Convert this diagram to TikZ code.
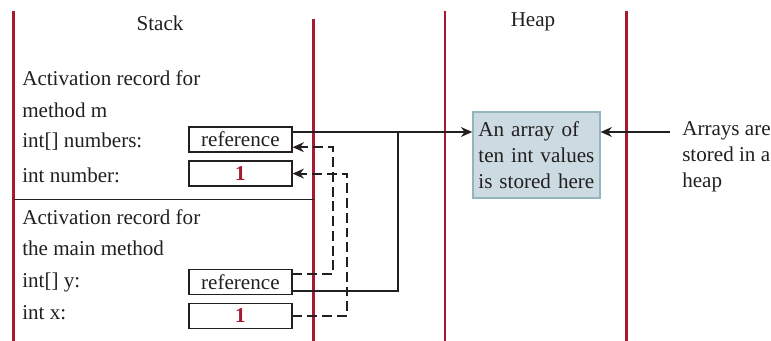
\documentclass[tikz,border=0pt]{standalone}
\usepackage{fontspec}
\setmainfont{Liberation Serif}
\usetikzlibrary{calc, positioning, arrows.meta}
\definecolor{wallred}{HTML}{A6192E}
\definecolor{heapfill}{HTML}{CBDBE1}
\definecolor{heapedge}{HTML}{94B4BE}
\definecolor{inkgray}{HTML}{231F20}
\tikzset{
  wall/.style={wallred, line width=1.6pt},
  rowtext/.style={anchor=west, inner sep=0pt, text=inkgray},
  valbox/.style={draw=inkgray, line width=1pt, minimum width=2.575cm,
    minimum height=0.625cm, inner sep=0pt, text=inkgray},
  heapbox/.style={fill=heapfill, draw=heapedge, line width=1.4pt, text width=2.9cm,
    minimum height=2.15cm, inner sep=0.13cm, align=left, text=inkgray},
  reflink/.style={draw=inkgray, line width=1.5pt},
  backlink/.style={reflink, dash pattern=on 7pt off 3.5pt},
  pointer/.style={-{Stealth[length=8pt,width=7pt]}}
}
\newcommand{\oneval}{\textcolor{wallred}{\textbf{1}}}

\begin{document}
\begin{tikzpicture}[font=\fontsize{15}{18.5}\selectfont]
\useasboundingbox (0,0) rectangle (19.275,-8.525);

% Column walls
\draw[wall] (0.34,-0.275) -- (0.34,-8.525);
\draw[wall] (7.84,-0.475) -- (7.84,-8.525);
\draw[wall] (11.125,-0.275) -- (11.125,-8.525);
\draw[wall] (15.66,-0.275) -- (15.66,-8.525);

% Column titles
\node[text=inkgray] (stack) at (4.0,-0.575) {Stack};
\node[text=inkgray] (heap) at (13.325,-0.55) {Heap};

% Activation record for m
\node[rowtext] (mrec1) at (0.55,-1.95) {Activation record for};
\node[rowtext] (mrec2) at (0.55,-2.75) {method m};
\node[rowtext] (numlbl) at (0.55,-3.55) {int[] numbers:};
\node[rowtext] (nlbl) at (0.55,-4.375) {int number:};
\draw[inkgray, line width=0.7pt] (0.34,-4.975) -- (7.84,-4.975);

% Activation record for main
\node[rowtext] (mainrec1) at (0.55,-5.425) {Activation record for};
\node[rowtext] (mainrec2) at (0.55,-6.2) {the main method};
\node[rowtext] (ylbl) at (0.55,-7.05) {int[] y:};
\node[rowtext] (xlbl) at (0.55,-7.825) {int x:};

% Value boxes
\node[valbox] (numref) at (6.01,-3.49) {reference};
\node[valbox] (numval) at (6.01,-4.34) {\oneval};
\node[valbox] (yref) at (6.01,-7.05) {reference};
\node[valbox] (xval) at (6.01,-7.9) {\oneval};

% Heap array and note
\node[heapbox] (arr) at (13.41,-3.87) {An array of\\ten int values\\is stored here};
\node[rowtext, align=left] (note) at (17.05,-3.93) {Arrays are\\stored in a\\heap};

% References to the array
\coordinate (join) at (9.95,-3.3);
\draw[reflink, pointer] (numref.east |- join) -- (join) -- (join -| arr.west);
\draw[reflink] ($(yref.south east)+(0,0.1)$) -| (join);
\coordinate (notetail) at (16.75,-3.3);
\draw[reflink, pointer] (notetail) -- (notetail -| arr.east);

% Values passed back to m
\coordinate (ybend) at (8.32,-3.68);
\draw[backlink, pointer] ($(yref.north east)+(0,-0.14)$) -| (ybend) -- (numref.east |- ybend);
\coordinate (xbend) at (8.67,-4.34);
\draw[backlink, pointer] (xval.east) -| (xbend) -- (numval.east);

\end{tikzpicture}
\end{document}
